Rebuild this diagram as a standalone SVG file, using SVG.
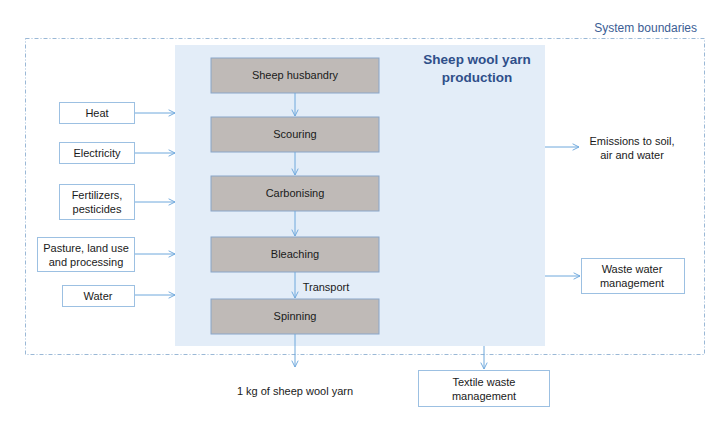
<svg xmlns="http://www.w3.org/2000/svg" width="720" height="427" viewBox="0 0 720 427">
<defs>
<marker id="chev" viewBox="0 0 10 10" refX="9" refY="5" markerWidth="8" markerHeight="8" markerUnits="userSpaceOnUse" orient="auto">
<path d="M1,1 L9,5 L1,9" fill="none" stroke="#6fa8dc" stroke-width="1.2"/>
</marker>
<style>
text{font-family:"Liberation Sans",Arial,sans-serif;font-size:11px;fill:#1a1a1a;text-anchor:middle}
.step rect{fill:#bfbab7;stroke:#8aa6c8;stroke-width:1}
.inp rect{fill:#fff;stroke:#9cc0e2;stroke-width:1}
.conn line{stroke:#6fa8dc;stroke-width:1;marker-end:url(#chev)}
.title{font-weight:bold;font-size:13.5px;fill:#2f4f8a}
</style>
</defs>
<rect x="25.5" y="38.5" width="679" height="316" fill="none" stroke="#9ab8d6" stroke-width="1" stroke-dasharray="4,2,1,2"/>
<text x="697" y="32" style="text-anchor:end;fill:#3b5d94;font-size:12px">System boundaries</text>
<rect x="175" y="45" width="370" height="301" fill="#e3edf8"/>
<text class="title" x="477" y="64">Sheep wool yarn</text>
<text class="title" x="477" y="82">production</text>
<g id="sheep-husbandry" class="step"><rect x="211" y="58" width="168" height="35"/><text x="295" y="79">Sheep husbandry</text></g>
<g id="scouring" class="step"><rect x="211" y="117" width="168" height="35"/><text x="295" y="138">Scouring</text></g>
<g id="carbonising" class="step"><rect x="211" y="176" width="168" height="35"/><text x="295" y="197">Carbonising</text></g>
<g id="bleaching" class="step"><rect x="211" y="237" width="168" height="35"/><text x="295" y="258">Bleaching</text></g>
<g id="spinning" class="step"><rect x="211" y="299" width="168" height="35"/><text x="295" y="320">Spinning</text></g>
<g id="heat" class="inp"><rect x="59.5" y="102.5" width="75" height="21"/><text x="97" y="117">Heat</text></g>
<g id="electricity" class="inp"><rect x="59.5" y="142.5" width="75" height="21"/><text x="97" y="157">Electricity</text></g>
<g id="fertilizers" class="inp"><rect x="59.5" y="184.5" width="75" height="35"/><text x="97" y="199">Fertilizers,</text><text x="97" y="213">pesticides</text></g>
<g id="pasture" class="inp"><rect x="37.5" y="237.5" width="97" height="34"/><text x="86" y="252">Pasture, land use</text><text x="86" y="266">and processing</text></g>
<g id="water" class="inp"><rect x="62.5" y="285.5" width="72" height="21"/><text x="98" y="300">Water</text></g>
<g id="emissions"><text x="632" y="145">Emissions to soil,</text><text x="632" y="159">air and water</text></g>
<g id="waste-water" class="inp"><rect x="581.5" y="258.5" width="103" height="35"/><text x="632" y="273">Waste water</text><text x="632" y="287">management</text></g>
<g id="yarn"><text x="295" y="395">1 kg of sheep wool yarn</text></g>
<g id="textile-waste" class="inp"><rect x="418.5" y="370.5" width="131" height="36"/><text x="484" y="386">Textile waste</text><text x="484" y="400">management</text></g>
<g id="transport-label"><text x="326" y="291">Transport</text></g>
<g id="connectors" class="conn">
<line x1="295" y1="93" x2="295" y2="116"/>
<line x1="295" y1="152" x2="295" y2="175"/>
<line x1="295" y1="211" x2="295" y2="236"/>
<line x1="295" y1="272" x2="295" y2="298"/>
<line x1="295" y1="334" x2="295" y2="367"/>
<line x1="135" y1="113" x2="175" y2="113"/>
<line x1="135" y1="153" x2="175" y2="153"/>
<line x1="135" y1="202" x2="175" y2="202"/>
<line x1="135" y1="254" x2="175" y2="254"/>
<line x1="135" y1="295" x2="175" y2="295"/>
<line x1="545" y1="147" x2="579" y2="147"/>
<line x1="545" y1="276" x2="580" y2="276"/>
<line x1="484" y1="346" x2="484" y2="369"/>
</g>
</svg>
